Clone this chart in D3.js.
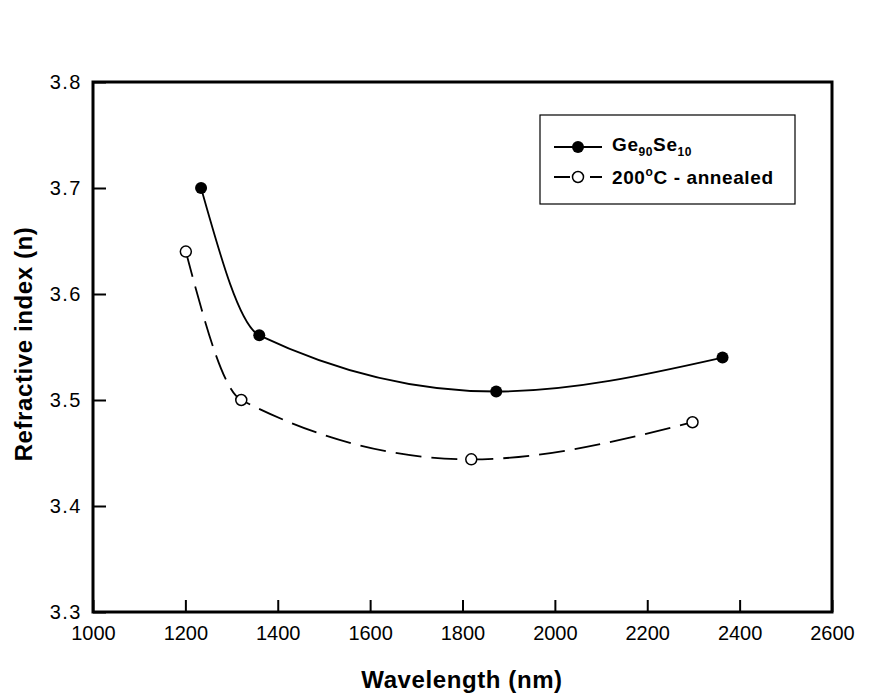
<!DOCTYPE html>
<html><head><meta charset="utf-8">
<script src="https://cdn.jsdelivr.net/npm/d3@7"></script>
<style>body{margin:0;background:#fff}svg{display:block}</style>
</head><body>
<script>
const xTicks = [1000,1200,1400,1600,1800,2000,2200,2400,2600];
const yTicks = [3.3,3.4,3.5,3.6,3.7,3.8];
const asDepX = [1234,1360,1873,2363];
const asDepY = [3.700,3.561,3.508,3.540];
const annX = [1201,1321,1819,2298];
const annY = [3.640,3.500,3.444,3.479];

const W=874,H=699;
const svg=d3.select("body").append("svg").attr("width",W).attr("height",H);
const L=93,R=832,T=82,B=612;
const x=d3.scaleLinear().domain([1000,2600]).range([L,R]);
const y=d3.scaleLinear().domain([3.3,3.8]).range([B,T]);
const font="Liberation Sans, Arial, sans-serif";

const xa=svg.append("g").attr("transform",`translate(0,${B})`)
  .call(d3.axisBottom(x).tickValues(xTicks).tickSizeInner(-12).tickSizeOuter(0).tickPadding(14).tickFormat(d3.format("d")));
xa.select(".domain").remove();
xa.selectAll("line").attr("stroke","#000").attr("stroke-width",2);
xa.selectAll("text").attr("font-family",font).attr("font-size",20).attr("fill","#000").attr("dy","0.72em");
const ya=svg.append("g").attr("transform",`translate(${L},0)`)
  .call(d3.axisLeft(y).tickValues(yTicks).tickSizeInner(-13).tickSizeOuter(0).tickPadding(11).tickFormat(d3.format(".1f")));
ya.select(".domain").remove();
ya.selectAll("line").attr("stroke","#000").attr("stroke-width",2);
ya.selectAll("text").attr("font-family",font).attr("font-size",20).attr("fill","#000").attr("letter-spacing",1.5);

svg.append("rect").attr("x",L).attr("y",T).attr("width",R-L).attr("height",B-T)
  .attr("fill","none").attr("stroke","#000").attr("stroke-width",3);

const line=d3.line().x(d=>x(d[0])).y(d=>y(d[1])).curve(d3.curveMonotoneX);
const s1=asDepX.map((v,i)=>[v,asDepY[i]]);
const s2=annX.map((v,i)=>[v,annY[i]]);
svg.append("path").attr("d",line(s1)).attr("fill","none").attr("stroke","#000").attr("stroke-width",1.8);
svg.append("path").attr("d",line(s2)).attr("fill","none").attr("stroke","#000").attr("stroke-width",1.8).attr("stroke-dasharray","26,10");
svg.selectAll(".p1").data(s1).enter().append("circle").attr("cx",d=>x(d[0])).attr("cy",d=>y(d[1])).attr("r",6).attr("fill","#000");
svg.selectAll(".p2").data(s2).enter().append("circle").attr("cx",d=>x(d[0])).attr("cy",d=>y(d[1])).attr("r",5.5).attr("fill","#fff").attr("stroke","#000").attr("stroke-width",1.5);

// legend
const lg=svg.append("g");
lg.append("rect").attr("x",540).attr("y",115).attr("width",255).attr("height",89).attr("fill","#fff").attr("stroke","#000").attr("stroke-width",1.2);
lg.append("line").attr("x1",554).attr("x2",602).attr("y1",147).attr("y2",147).attr("stroke","#000").attr("stroke-width",1.8);
lg.append("circle").attr("cx",578).attr("cy",147).attr("r",6).attr("fill","#000");
lg.append("line").attr("x1",554).attr("x2",602).attr("y1",177).attr("y2",177).attr("stroke","#000").attr("stroke-width",1.8).attr("stroke-dasharray","16,20,12");
lg.append("circle").attr("cx",578).attr("cy",177).attr("r",5.5).attr("fill","#fff").attr("stroke","#000").attr("stroke-width",1.5);
const t1=lg.append("text").attr("x",612).attr("y",151).attr("font-family",font).attr("font-weight","bold").attr("font-size",19).attr("letter-spacing",0.6);
t1.append("tspan").text("Ge");
t1.append("tspan").attr("font-size",12).attr("dy",5).text("90");
t1.append("tspan").attr("dy",-5).text("Se");
t1.append("tspan").attr("font-size",12).attr("dy",5).text("10");
const t2=lg.append("text").attr("x",612).attr("y",184).attr("font-family",font).attr("font-weight","bold").attr("font-size",19).attr("letter-spacing",0.6);
t2.append("tspan").text("200");
t2.append("tspan").attr("font-size",12).attr("dy",-8).text("o");
t2.append("tspan").attr("dy",8).text("C - annealed");

// axis titles
svg.append("text").attr("x",462).attr("y",688).attr("text-anchor","middle").attr("font-family",font).attr("font-weight","bold").attr("font-size",24).attr("letter-spacing",0.6).text("Wavelength (nm)");
svg.append("text").attr("transform",`translate(32,344) rotate(-90)`).attr("text-anchor","middle").attr("font-family",font).attr("font-weight","bold").attr("font-size",24).attr("letter-spacing",0.6).text("Refractive index (n)");
</script>
</body></html>
